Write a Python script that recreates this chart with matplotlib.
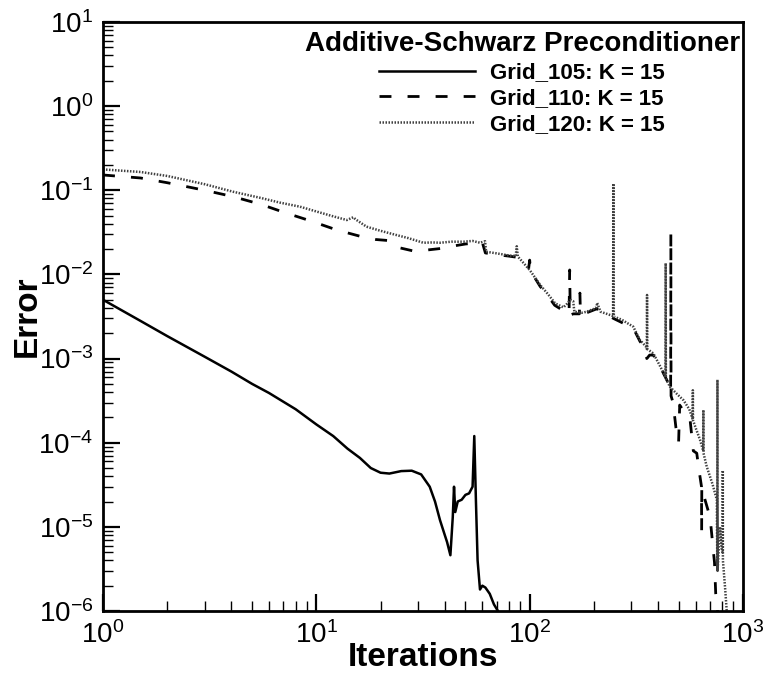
import numpy as np
import matplotlib
matplotlib.use('Agg')
import matplotlib.pyplot as plt
from matplotlib.ticker import FixedLocator

plt.rcParams['font.family'] = ['Liberation Sans', 'DejaVu Sans']
plt.rcParams['mathtext.fontset'] = 'custom'
plt.rcParams['mathtext.rm'] = 'Liberation Sans'

# Grid_105 (solid)
x105 = [1, 1.5, 2, 3, 4, 5, 6, 8, 10, 12, 14, 16, 18, 20, 22, 25, 28,
        31, 34, 36, 38, 40, 41, 42.5, 43.6, 44.2, 44.8, 46, 48, 50, 52,
        54, 55, 56, 57, 58.5, 60, 62, 65, 68, 71]
y105 = [5.0e-3, 2.8e-3, 1.85e-3, 1.05e-3, 7.0e-4, 5.0e-4, 3.9e-4, 2.5e-4, 1.65e-4, 1.2e-4, 8.5e-5, 6.6e-5, 5.0e-5, 4.4e-5, 4.3e-5, 4.6e-5, 4.65e-5,
        4.2e-5, 3.0e-5, 2.0e-5, 1.2e-5, 8e-6, 6.6e-6, 4.6e-6, 1.3e-5, 3.0e-5, 1.5e-5, 2.0e-5, 2.1e-5, 2.4e-5, 2.5e-5,
        3e-5, 1.2e-4, 2e-5, 4e-6, 1.8e-6, 2.0e-6, 1.9e-6, 1.6e-6, 1.2e-6, 1e-6]

# Grid_110 (dashed)
x110 = [1, 1.5, 2, 3, 4.08, 5.5, 7.13, 9.34, 12.5, 16.3, 19, 22.1, 24, 28.5, 33, 38.7, 45, 50, 56, 60, 62, 70, 80, 87,
        99, 100, 101, 112, 122, 131, 144, 153, 154, 155, 156, 160, 171, 172, 173, 185, 206, 247, 306, 329, 350, 354, 365, 380, 420, 445,
        458, 459, 460, 470, 485, 499, 505, 520, 545, 565, 585, 607, 620, 639, 640, 641, 660, 701, 727, 735, 745, 760]
y110 = [0.152, 0.14, 0.123, 0.1, 0.084, 0.068, 0.0542, 0.0435, 0.0337, 0.0281, 0.026, 0.0252, 0.021, 0.019, 0.0195, 0.0204, 0.022, 0.023, 0.0236, 0.024, 0.018, 0.0172, 0.0165, 0.016,
        0.012, 0.0148, 0.011, 0.0072, 0.0055, 0.0043, 0.0037, 0.0034, 0.0113, 0.0034, 0.0033, 0.0034, 0.0034, 0.006, 0.0034, 0.0035, 0.0039, 0.003, 0.0023, 0.0016, 0.0013, 0.001, 0.0011, 0.0011, 7e-4, 5.2e-4,
        4e-4, 0.0308, 3.6e-4, 3e-4, 1.5e-4, 1e-4, 2.8e-4, 2.5e-4, 2e-4, 1.86e-4, 8e-5, 7.5e-5, 5e-5, 3e-5, 9e-6, 3e-5, 2.2e-5, 1.3e-5, 5e-6, 3.8e-6, 1.6e-6, 1e-6]

# Grid_120 (dotted)
x120 = [1, 1.5, 2, 3, 4.08, 5.5, 6.76, 8.39, 10, 12, 13.9, 14.9, 15.3, 17.2, 20, 23, 27, 31.7, 35, 38, 43, 48.9, 54, 58.5, 61.8, 62.5, 70, 80,
        86, 87, 88, 100, 112, 122, 131.6, 143.9, 150, 154.8, 160, 162, 175, 185, 200, 206, 207, 215, 230,
        246, 247, 248, 270, 306, 320, 329, 350, 354, 355, 356, 380, 410, 433, 434, 435, 455, 490, 526, 560,
        581, 582, 583, 600, 629, 651, 652, 653, 676, 720, 754, 758, 759, 760, 780, 795, 803, 804, 805, 824, 839]
y120 = [0.177, 0.165, 0.148, 0.118, 0.096, 0.081, 0.0713, 0.0638, 0.056, 0.049, 0.0443, 0.0478, 0.045, 0.0369, 0.033, 0.030, 0.027, 0.0238, 0.024, 0.0238, 0.0245, 0.0245, 0.025, 0.0238, 0.0248, 0.0186, 0.0178, 0.0168,
        0.0165, 0.0216, 0.0163, 0.0113, 0.0075, 0.0058, 0.00454, 0.00406, 0.0045, 0.00497, 0.0048, 0.0036, 0.0035, 0.0036, 0.0039, 0.0041, 0.0046, 0.0036, 0.0034,
        0.0032, 0.12, 0.00315, 0.0029, 0.00239, 0.0019, 0.00166, 0.0014, 0.0013, 0.0057, 0.0013, 0.00115, 0.0008, 0.0006, 0.0136, 0.00058, 0.00046, 0.00038, 0.00032, 0.00025,
        0.00019, 4.2e-4, 1.85e-4, 1.5e-4, 1.08e-4, 8e-5, 2.45e-4, 7.5e-5, 5.2e-5, 3.2e-5, 2.1e-5, 3e-6, 5.6e-4, 3e-6, 1e-5, 5.3e-6, 5e-6, 4.7e-5, 4e-6, 1.9e-6, 1e-6]

labels = ['Grid_105: K = 15', 'Grid_110: K = 15', 'Grid_120: K = 15']
xticks = [1, 10, 100, 1000]
yticks = [1e-6, 1e-5, 1e-4, 1e-3, 1e-2, 1e-1, 1, 10]

fig = plt.figure(figsize=(7.65, 6.78), dpi=100)
ax = fig.add_axes([103/765, 67/678, 640/765, 589/678])

ax.plot(x105, y105, color='k', lw=1.8, label=labels[0])
ax.plot(x110, y110, color='k', lw=2.0, linestyle=(0, (4.3, 5.8)), label=labels[1])
ax.plot(x120, y120, color='0.25', lw=1.8, linestyle=(0, (0.6, 0.6)), label=labels[2])

ax.set_xscale('log')
ax.set_yscale('log')
ax.set_xlim(1, 1000)
ax.set_ylim(1e-6, 10)
ax.xaxis.set_major_locator(FixedLocator(xticks))
ax.yaxis.set_major_locator(FixedLocator(yticks))

for s in ax.spines.values():
    s.set_linewidth(2)
ax.tick_params(which='both', direction='in', top=False, right=False)
ax.tick_params(which='major', length=12, width=1.6, labelsize=20, pad=7)
ax.tick_params(which='minor', length=7, width=1)

ax.set_xlabel('Iterations', fontsize=24, fontweight='bold', labelpad=-5)
ax.set_ylabel('Error', fontsize=24, fontweight='bold', labelpad=-3)

leg = ax.legend(title='Additive-Schwarz Preconditioner', loc='upper right',
                bbox_to_anchor=(0.995, 0.984), frameon=False,
                prop={'weight': 'bold', 'size': 16}, title_fontsize=20,
                handlelength=4.3, handletextpad=0.7, labelspacing=0.22,
                borderaxespad=0, borderpad=0)
leg.get_title().set_fontweight('bold')

plt.savefig('out.png', dpi=100)
